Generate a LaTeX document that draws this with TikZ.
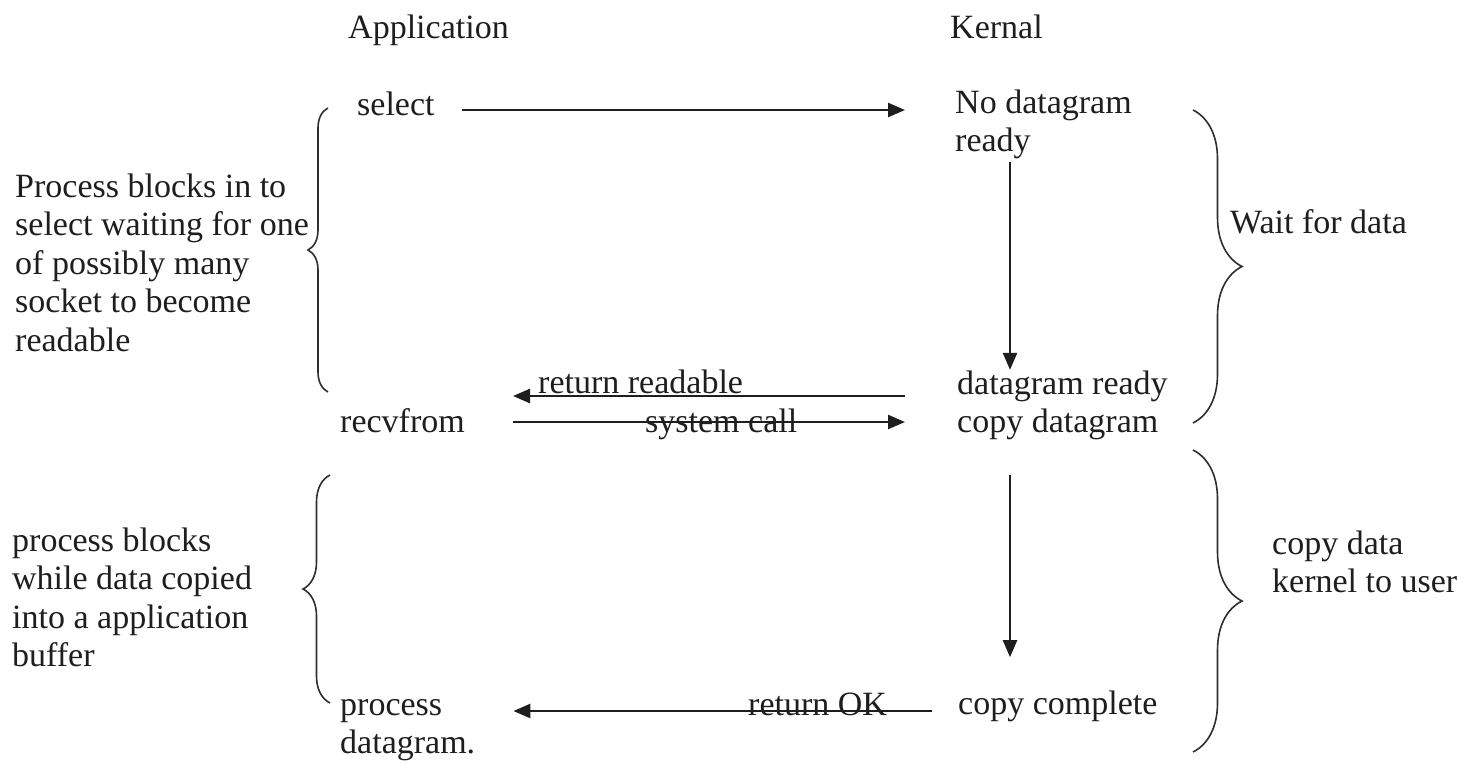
\documentclass[tikz,border=0pt]{standalone}
\usepackage{fontspec}
\setmainfont{Liberation Serif}
\usetikzlibrary{arrows.meta,decorations.pathreplacing}
\definecolor{ink}{HTML}{1E1E1E}
\definecolor{braceink}{HTML}{2E2E2E}
\begin{document}
\begin{tikzpicture}[x=1pt,y=-1pt,
  txt/.style={inner sep=0pt,anchor=base west,text=ink,font=\fontsize{34}{38.5}\selectfont},
  arr/.style={draw=ink,line width=2.4pt,-{Triangle[length=17pt,width=14pt]}},
  bracel/.style={draw=braceink,line width=1.6pt,decorate,decoration={brace,amplitude=#1}}
]
\fill[white] (0,0) rectangle (1466,763);
\useasboundingbox (0,0) rectangle (1466,763);
% headers
\node[txt] (hApp) at (348,38) {Application};
\node[txt] (hKer) at (950,38) {Kernal};
% application column
\node[txt] (sel) at (357,115) {select};
\node[txt] (recv) at (340,432) {recvfrom};
\node[txt] (proc) at (340,715) {\begin{tabular}[t]{@{}l@{}}process\\datagram.\end{tabular}};
% kernel column
\node[txt] (nodg) at (955,113) {\begin{tabular}[t]{@{}l@{}}No datagram\\ready\end{tabular}};
\node[txt] (dgr) at (957,394) {\begin{tabular}[t]{@{}l@{}}datagram ready\\copy datagram\end{tabular}};
\node[txt] (cpc) at (958,714) {copy complete};
% side texts
\node[txt] (txtA) at (15,197) {\begin{tabular}[t]{@{}l@{}}Process blocks in to\\select waiting for one\\of possibly many\\socket to become\\readable\end{tabular}};
\node[txt] (txtB) at (12,551) {\begin{tabular}[t]{@{}l@{}}process blocks\\while data copied\\into a application\\buffer\end{tabular}};
\node[txt] (txtW) at (1230,233) {Wait for data};
\node[txt] (txtC) at (1272,554) {\begin{tabular}[t]{@{}l@{}}copy data\\kernel to user\end{tabular}};
% arrow labels
\node[txt] (labRR) at (538,393) {return readable};
\node[txt] (labSC) at (645,432) {system call};
\node[txt] (labOK) at (748,715) {return OK};
% connectors
\draw[arr] ([shift={(27,-5)}]sel.base east) -- ([shift={(-50,-5)}]sel.base east -| nodg.west);
\draw[arr] ([shift={(55,-1)}]nodg.south west) -- ([shift={(53,3)}]dgr.north west);
\draw[arr] ([shift={(-52,2)}]dgr.base west) -- ([shift={(48,-36)}]recv.base east -| recv.east);
\draw[arr] ([shift={(48,-10)}]recv.base east) -- ([shift={(-52,-10)}]recv.base east -| dgr.west);
\draw[arr] ([shift={(53,31)}]dgr.south west) -- ([shift={(52,-33)}]cpc.north west);
\draw[arr] ([shift={(-26,-3)}]cpc.base west) -- ([shift={(38,-4)}]proc.base east);
% braces
\draw[bracel=20pt] (328,392) -- (328,108);
\draw[bracel=27pt] (330,703) -- (330,475);
\draw[bracel=49pt] (1193,110) -- (1193,423);
\draw[bracel=49pt] (1193,450) -- (1193,752);
\end{tikzpicture}
\end{document}
